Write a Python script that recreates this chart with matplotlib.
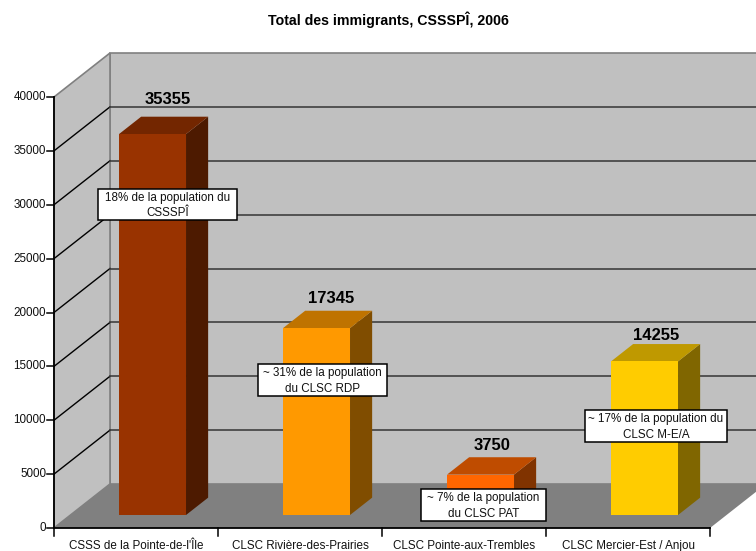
import matplotlib
matplotlib.use("Agg")
import matplotlib.pyplot as plt
from matplotlib.patches import Polygon, Rectangle

plt.rcParams["font.family"] = ["Liberation Sans", "DejaVu Sans"]

W, H = 756, 551

categories = ["CSSS de la Pointe-de-l'Île", "CLSC Rivière-des-Prairies",
              "CLSC Pointe-aux-Trembles", "CLSC Mercier-Est / Anjou"]
values = [35355, 17345, 3750, 14255]
front_colors = ["#993300", "#FF9900", "#FF6600", "#FFCC00"]
top_colors = ["#732600", "#BF7300", "#BF4C00", "#BF9900"]
side_colors = ["#4D1A00", "#804D00", "#803300", "#806600"]
notes = ["18% de la population du\nCSSSPÎ",
         "~ 31% de la population\ndu CLSC RDP",
         "~ 7% de la population\ndu CLSC PAT",
         "~ 17% de la population du\nCLSC M-E/A"]
yticks = [0, 5000, 10000, 15000, 20000, 25000, 30000, 35000, 40000]

# note boxes in pixels: left, top, right, bottom
note_boxes = [(98, 189, 237, 220), (258, 364, 387, 396),
              (421, 489, 546, 521), (585, 410, 727, 442)]
# value labels, pixel shift from the back top of each bar
label_shifts = [(-7, -17), (-8, -12), (-11, -12), (-11, -9)]

# pixel scale of the fake 3d chart
X0, Y0 = 54, 528
CAT_W = 164
VAL_PX = 431 / 40000
DEPTH_X, DEPTH_Y = 56, 44
BAR_W = 67
BAR_D0, BAR_D1 = 0.295, 0.69


def pt(cat, val, depth=0):
    # category position, value and depth -> data coords of the pixel axes
    return (X0 + cat * CAT_W + depth * DEPTH_X,
            Y0 - val * VAL_PX - depth * DEPTH_Y)


fig = plt.figure(figsize=(W / 100, H / 100), dpi=100)
ax = fig.add_axes([0, 0, 1, 1])
ax.set_xlim(0, W)
ax.set_ylim(H, 0)
ax.axis("off")

n = len(categories)
top = yticks[-1]

# walls and floor
ax.add_patch(Polygon([pt(0, 0, 1), pt(n, 0, 1), pt(n, top, 1), pt(0, top, 1)],
                     fc="#C0C0C0", ec="#808080", lw=1.2, zorder=1))
ax.add_patch(Polygon([pt(0, 0), pt(0, 0, 1), pt(0, top, 1), pt(0, top)],
                     fc="#C0C0C0", ec="#808080", lw=1.2, zorder=1))
ax.add_patch(Polygon([pt(0, 0), pt(n, 0), pt(n, 0, 1), pt(0, 0, 1)],
                     fc="#808080", ec="none", zorder=2))

# grid lines
for v in yticks[1:-1]:
    ax.plot(*zip(pt(0, v), pt(0, v, 1)), color="black", lw=1, zorder=1.5)
    ax.plot(*zip(pt(0, v, 1), pt(n, v, 1)), color="#404040", lw=1.2, zorder=1.5)

# bars
for i, v in enumerate(values):
    c0 = i + 0.5 - BAR_W / CAT_W / 2
    c1 = i + 0.5 + BAR_W / CAT_W / 2
    ax.add_patch(Polygon([pt(c1, 0, BAR_D0), pt(c1, 0, BAR_D1), pt(c1, v, BAR_D1), pt(c1, v, BAR_D0)],
                         fc=side_colors[i], ec="none", zorder=3))
    ax.add_patch(Polygon([pt(c0, v, BAR_D0), pt(c1, v, BAR_D0), pt(c1, v, BAR_D1), pt(c0, v, BAR_D1)],
                         fc=top_colors[i], ec="none", zorder=3))
    ax.add_patch(Polygon([pt(c0, 0, BAR_D0), pt(c1, 0, BAR_D0), pt(c1, v, BAR_D0), pt(c0, v, BAR_D0)],
                         fc=front_colors[i], ec="none", zorder=3))
    lx, ly = pt(i + 0.5, v, BAR_D1)
    ax.text(lx + label_shifts[i][0], ly + label_shifts[i][1], str(v), ha="center", va="center",
            fontsize=12, fontweight="bold", color="black", zorder=4)

# axes and ticks
ax.plot(*zip(pt(0, 0), pt(0, top)), color="black", lw=1.3, zorder=5)
ax.plot(*zip(pt(0, 0), pt(n, 0)), color="black", lw=1.3, zorder=5)
for v in yticks:
    x, y = pt(0, v)
    ax.plot([x - 7, x], [y, y], color="black", lw=1.1, zorder=5)
    ax.text(x - 8, y, str(v), ha="right", va="center", fontsize=8.4, color="#111111")
for i in range(n + 1):
    x, y = pt(i, 0)
    ax.plot([x, x], [y, y + 8], color="black", lw=1.1, zorder=5)
for i, name in enumerate(categories):
    x, y = pt(i + 0.5, 0)
    ax.text(x, y + 18, name, ha="center", va="center", fontsize=8.4, color="#111111")

# note boxes
for note, (l, t, r, b) in zip(notes, note_boxes):
    ax.add_patch(Rectangle((l, t), r - l, b - t, fc="white", ec="black", lw=1.1, zorder=6))
    ax.text((l + r) / 2, (t + b) / 2 + 1, note, ha="center", va="center",
            fontsize=8.4, color="#111111", linespacing=1.4, zorder=7)

ax.text(388, 20, "Total des immigrants, CSSSPÎ, 2006", ha="center", va="center",
        fontsize=10.2, fontweight="bold", color="black")

fig.savefig("out.png", dpi=100)
